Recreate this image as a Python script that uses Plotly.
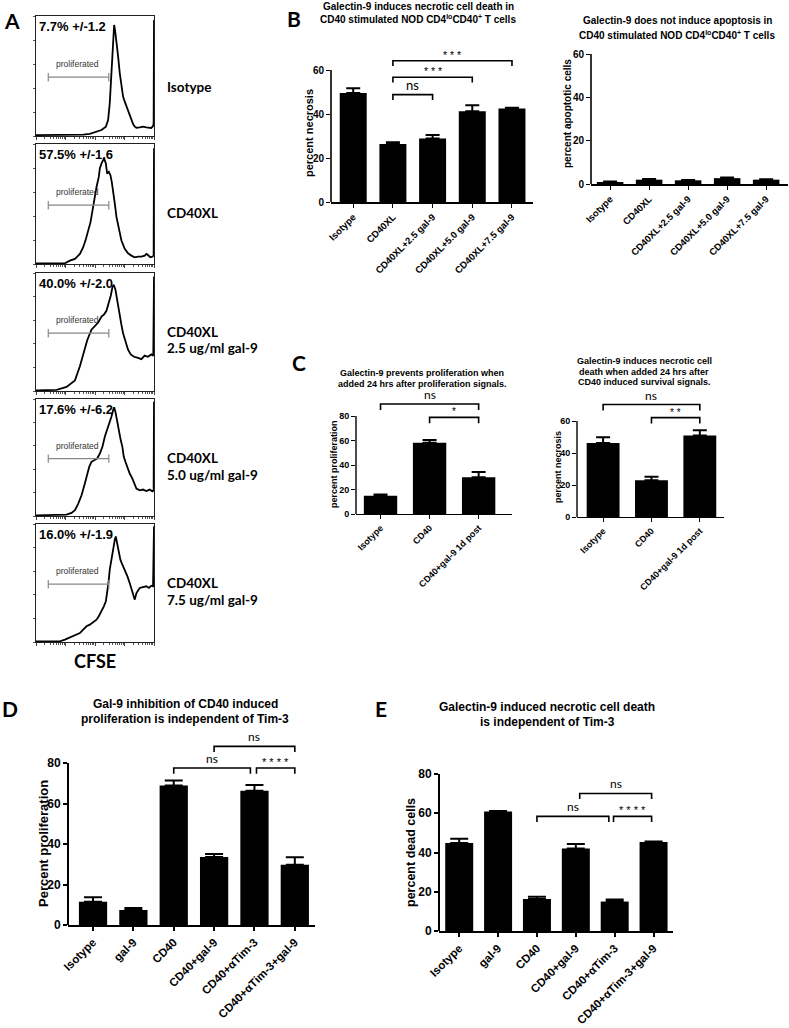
import math
import plotly.graph_objects as go

W, H = 789, 1028

# ---------------- Panel A data (CFSE histograms; x = channel 0-1000 over 4 log decades, y = % of max) -------------
hist_stats = ["7.7% +/-1.2", "57.5% +/-1.6", "40.0% +/-2.0", "17.6% +/-6.2", "16.0% +/-1.9"]
hist_side_labels = [["Isotype"], ["CD40XL"], ["CD40XL", "2.5 ug/ml gal-9"],
                    ["CD40XL", "5.0 ug/ml gal-9"], ["CD40XL", "7.5 ug/ml gal-9"]]

iso_ch = [0, 118, 259, 400, 456, 513, 555, 592, 611, 625, 637, 648, 656, 662, 670, 682, 696, 710, 724, 738,
          752, 766, 780, 794, 808, 823, 837, 851, 879, 907, 935, 963, 977, 992, 997, 1000]
iso_cnt = [0.8, 0.8, 0.8, 1.1, 1.7, 3.3, 5.0, 7.8, 13.3, 27.2, 46.7, 68.9, 85.6, 92.5, 88.3, 80.0, 66.1, 52.2, 41.1, 32.8,
           28.6, 25.0, 21.7, 17.5, 13.3, 10.0, 7.8, 6.9, 7.2, 7.8, 7.2, 6.9, 6.7, 8.3, 10.6, 96.7]

cd40_ch = [0, 245, 287, 330, 372, 400, 423, 442, 462, 479, 493, 513, 532, 541, 555, 569, 577, 592, 603, 617,
           631, 642, 654, 668, 682, 704, 724, 752, 780, 808, 837, 865, 893, 921, 935, 949, 969, 986, 997, 1000]
cd40_cnt = [0.6, 0.6, 2.8, 4.2, 8.4, 14.0, 20.9, 27.9, 34.9, 44.7, 54.5, 64.2, 72.6, 79.6, 83.8, 87.1, 88.0, 83.8, 75.4, 76.8,
            74.0, 68.4, 61.4, 50.3, 39.1, 27.9, 19.6, 12.6, 8.9, 7.0, 5.6, 6.1, 6.1, 7.0, 8.4, 7.5, 5.6, 6.1, 7.0, 96.4]

g25_ch = [0, 175, 259, 330, 372, 400, 434, 470, 499, 527, 555, 577, 597, 617, 634, 648, 659, 673, 687, 704,
          724, 738, 758, 780, 803, 831, 865, 893, 921, 949, 977, 994, 1000]
g25_cnt = [0.5, 1.0, 3.4, 9, 21, 31, 43, 52, 55, 58, 63, 65, 68, 74, 81, 88, 90, 86, 77, 66,
           56, 49, 42, 35, 31, 29, 28, 27, 30, 29, 31, 30, 97]

g50_ch = [0, 259, 301, 330, 358, 386, 414, 434, 451, 470, 499, 518, 541, 563, 583, 603, 625, 639, 654, 662,
          673, 687, 704, 718, 732, 744, 758, 772, 794, 817, 837, 851, 879, 907, 935, 963, 986, 997, 1000]
g50_cnt = [0.6, 1.1, 2.6, 4.9, 10.6, 17.7, 27.7, 36.3, 42.0, 46.3, 47.7, 49.1, 53.4, 59.1, 67.7, 73.4, 79.1, 84.9, 90.6, 92.9,
           89.1, 80.6, 73.4, 64.9, 59.1, 50.6, 46.3, 42.0, 36.3, 32.0, 27.7, 23.4, 22.0, 22.6, 21.4, 22.6, 21.1, 22.0, 97.7]

g75_ch = [0, 203, 245, 287, 330, 372, 400, 428, 456, 485, 513, 532, 555, 575, 592, 603, 614, 625, 639, 654,
          668, 676, 687, 701, 715, 732, 752, 775, 794, 823, 837, 851, 879, 907, 935, 958, 977, 992, 1000]
g75_cnt = [0.6, 0.6, 2.0, 3.7, 5.6, 7.6, 10.5, 13.3, 14.7, 16.7, 18.9, 21.8, 26.0, 30.2, 34.5, 41.5, 50.0, 61.3, 69.8, 81.1,
           86.7, 89.5, 83.9, 76.8, 69.8, 65.5, 61.3, 55.6, 50.0, 41.5, 35.9, 41.5, 45.8, 46.6, 47.2, 45.8, 47.7, 47.2, 98.0]

gate_lo, gate_hi, gate_level = 104, 617, 49
gate_label = "proliferated"

# ---------------- Panel B data ----------------
b_cats = ["Isotype", "CD40XL", "CD40XL+2.5 gal-9", "CD40XL+5.0 gal-9", "CD40XL+7.5 gal-9"]
b_necrosis = [49.6, 26.4, 28.9, 41.3, 42.5]
b_necrosis_err = [2.1, 0.8, 1.6, 2.7, 0.3]
b_apoptotic = [0.9, 2.0, 1.7, 2.7, 2.0]
b_apoptotic_err = [0.2, 0.3, 0.2, 0.3, 0.2]
b_sig = [(1, 2, 48.8, "ns"), (1, 3, 56.7, "***"), (1, 4, 64.2, "***")]

# ---------------- Panel C data ----------------
c_cats = ["Isotype", "CD40", "CD40+gal-9 1d post"]
c_prolif = [15.0, 58.2, 29.9]
c_prolif_err = [1.0, 2.2, 4.4]
c_prolif_sig = [(0, 2, 89.8, "ns"), (1, 2, 78.9, "*")]
c_necrosis = [46.3, 23.0, 50.9]
c_necrosis_err = [3.6, 2.2, 3.3]
c_necrosis_sig = [(0, 2, 70.3, "ns"), (1, 2, 62.1, "**")]

# ---------------- Panel D / E data ----------------
de_cats = ["Isotype", "gal-9", "CD40", "CD40+gal-9", "CD40+\u03b1Tim-3", "CD40+\u03b1Tim-3+gal-9"]
d_prolif = [11.5, 7.4, 68.9, 33.6, 66.3, 29.7]
d_prolif_err = [2.2, 1.0, 2.5, 1.5, 2.8, 3.8]
d_sig = [(2, 3.9, 77.5, "ns"), (4.05, 5, 77.5, "****"), (3, 5, 88.2, "ns")]
e_dead = [44.8, 60.9, 16.3, 42.0, 15.0, 45.3]
e_dead_err = [2.2, 0.2, 1.2, 2.3, 1.0, 0.3]
e_sig = [(2, 3.85, 58.4, "ns"), (3.97, 4.95, 58.4, "****"), (3.1, 4.95, 70.1, "ns")]

ARIAL = "Liberation Sans"
CALIBRI = "Lato"

fig = go.Figure()
layout = {}
ann = []
shapes = []


def fx(px):
    return px / W


def fy(py):
    return 1 - py / H


def names(n):
    return ("xaxis" if n == 1 else f"xaxis{n}", "yaxis" if n == 1 else f"yaxis{n}",
            "x" if n == 1 else f"x{n}", "y" if n == 1 else f"y{n}")


def text(x, y, s, size, family=ARIAL, bold=True, xanchor="center", yanchor="middle", angle=0, color="black",
         xref="paper", yref="paper", yshift=0):
    ann.append(dict(x=x, y=y, xref=xref, yref=yref, text=s, showarrow=False, xanchor=xanchor, yanchor=yanchor,
                    textangle=angle, yshift=yshift,
                    font=dict(family=family, size=size, color=color, weight="bold" if bold else "normal")))


# ---------------- Panel A ----------------
hist_series = [(iso_ch, iso_cnt), (cd40_ch, cd40_cnt), (g25_ch, g25_cnt), (g50_ch, g50_cnt), (g75_ch, g75_cnt)]
hist_boxes = [(16, 136), (144, 264), (273, 391), (399, 516), (524, 642)]
side_label_y = [[87], [213], [332, 348], [458, 475], [583, 600]]
box_l, box_r = 36, 154
minor_vals = [250 * (d + math.log10(k)) for d in range(4) for k in range(2, 10)]

for i, ((ch, cnt), (top, bot)) in enumerate(zip(hist_series, hist_boxes)):
    n = i + 1
    xa, ya, xr, yr = names(n)
    layout[xa] = dict(domain=[fx(box_l), fx(box_r)], range=[0, 1000], anchor=yr, showline=True, mirror=True,
                      linecolor="#222", linewidth=1, showgrid=False, zeroline=False, ticks="outside",
                      tickvals=[0, 250, 500, 750, 1000], ticklen=3, tickwidth=1, tickcolor="#444",
                      showticklabels=False, automargin=False,
                      minor=dict(tickmode="array", tickvals=minor_vals, ticks="outside", ticklen=2,
                                 tickwidth=0.8, tickcolor="#555"))
    layout[ya] = dict(domain=[fy(bot), fy(top)], range=[0, 100], anchor=xr, showline=True, mirror=True,
                      linecolor="#222", linewidth=1, showgrid=False, zeroline=False, ticks="outside",
                      tickvals=[0, 20, 40, 60, 80, 100], ticklen=2.5, tickwidth=1, tickcolor="#555",
                      showticklabels=False, automargin=False)
    fig.add_trace(go.Scatter(x=ch, y=cnt, mode="lines", line=dict(color="black", width=1.8),
                             xaxis=xr, yaxis=yr, showlegend=False, hoverinfo="skip"))
    fig.add_trace(go.Scatter(x=[gate_lo, gate_hi], y=[gate_level, gate_level], mode="lines+markers",
                             line=dict(color="#888", width=1.2),
                             marker=dict(symbol="line-ns", size=6, line=dict(color="#888", width=1.2)),
                             xaxis=xr, yaxis=yr, showlegend=False, hoverinfo="skip"))
    text((gate_lo + gate_hi) / 2 - 5, gate_level + 5, gate_label, 8.5, bold=False, yanchor="bottom",
         color="#333", xref=xr, yref=yr)
    text(fx(box_l + 1), fy(top + 1), hist_stats[i], 13, xanchor="left", yanchor="top")
    for line, yy in zip(hist_side_labels[i], side_label_y[i]):
        text(fx(165), fy(yy), line, 13.5, family=CALIBRI, xanchor="left")

text(fx(95), fy(661), "CFSE", 18, family=CALIBRI)

# panel letters
for letter, (lx, ly) in {"A": (12, 20), "B": (294, 18), "C": (299, 362), "D": (10, 708), "E": (381, 708)}.items():
    text(fx(lx), fy(ly), letter, 21, family=CALIBRI)


# ---------------- bar panels ----------------
def bar_panel(n, cats, vals, errs, sig, xpx, ypx, xrange, ymax, yext, ydtick, bar_w, cap, lw, tick_sz, cat_sz,
              drop, sig_sz, star_sz, ytitle, ytitle_pos, ytitle_sz, titles, title_sz):
    xa, ya, xr, yr = names(n)
    idx = list(range(len(cats)))
    top_px = ypx[1] - (ypx[1] - ypx[0]) * yext / ymax
    layout[xa] = dict(domain=[fx(xpx[0]), fx(xpx[1])], range=xrange, anchor=yr, showline=True,
                      linecolor="black", linewidth=lw, showgrid=False, zeroline=False, ticks="outside",
                      tickvals=idx, ticktext=cats, tickangle=-45, ticklen=4, tickwidth=lw * 0.8,
                      tickcolor="black", automargin=False,
                      tickfont=dict(family=ARIAL, size=cat_sz, color="black", weight="bold"))
    layout[ya] = dict(domain=[fy(ypx[1]), fy(top_px)], range=[0, yext], anchor=xr, showline=False,
                      showgrid=False, zeroline=False, ticks="outside",
                      tickvals=list(range(0, ymax + 1, ydtick)), ticklen=4, tickwidth=lw * 0.8,
                      tickcolor="black", automargin=False,
                      tickfont=dict(family=ARIAL, size=tick_sz, color="black", weight="bold"))
    shapes.append(dict(type="line", xref=f"{xr} domain", yref=yr, x0=0, x1=0, y0=0, y1=ymax,
                       line=dict(color="black", width=lw)))
    fig.add_trace(go.Bar(x=idx, y=vals, width=bar_w, marker=dict(color="black", line=dict(width=0)),
                         error_y=dict(type="data", array=errs, symmetric=False, arrayminus=[0] * len(errs),
                                      color="black", thickness=2, width=cap),
                         xaxis=xr, yaxis=yr, showlegend=False, hoverinfo="skip"))
    for (a, b, yb, lab) in sig:
        fig.add_trace(go.Scatter(x=[a, a, b, b], y=[yb - drop, yb, yb, yb - drop], mode="lines",
                                 line=dict(color="black", width=1.6),
                                 xaxis=xr, yaxis=yr, showlegend=False, hoverinfo="skip"))
        if lab == "ns":
            text((a + b) / 2, yb, lab, sig_sz, family=CALIBRI, bold=False, yanchor="bottom", xref=xr, yref=yr)
        else:
            text((a + b) / 2, yb, " ".join(lab), star_sz, bold=False, yanchor="bottom", xref=xr, yref=yr,
                 yshift=-2)
    text(fx(ytitle_pos[0]), fy(ytitle_pos[1]), ytitle, ytitle_sz, angle=-90)
    for (tx, ty, s) in titles:
        text(fx(tx), fy(ty), s, title_sz)


bar_panel(6, b_cats, b_necrosis, b_necrosis_err, b_sig, (331, 533), (70, 202), [-0.56, 4.53], 60, 70, 20,
          0.68, 7, 1.6, 10, 9.5, 2.4, 13, 10.5, "percent necrosis", (309, 133), 11,
          [(418, 7, "Galectin-9 induces necrotic cell death in"),
           (418, 19, "CD40 stimulated NOD CD4<sup>lo</sup>CD40<sup>+</sup> T cells")], 10)
bar_panel(7, b_cats, b_apoptotic, b_apoptotic_err, [], (591, 788), (54, 184), [-0.49, 4.56], 60, 60, 20,
          0.68, 7, 1.6, 10, 9.5, 2.4, 13, 10.5, "percent apoptotic cells", (567, 114), 10,
          [(677, 20, "Galectin-9 does not induce apoptosis in"),
           (677, 35, "CD40 stimulated NOD CD4<sup>lo</sup>CD40<sup>+</sup> T cells")], 10)
bar_panel(8, c_cats, c_prolif, c_prolif_err, c_prolif_sig, (356, 512), (416, 514), [-0.5, 2.68], 80, 98, 20,
          0.68, 7, 1.4, 9, 9, 4.9, 12, 10, "percent proliferation", (334, 464), 9,
          [(422, 373, "Galectin-9 prevents proliferation when"),
           (422, 384, "added 24 hrs after proliferation signals.")], 9)
bar_panel(9, c_cats, c_necrosis, c_necrosis_err, c_necrosis_sig, (577, 724), (421, 517), [-0.54, 2.5], 60, 76, 20,
          0.68, 7, 1.4, 9, 9, 3.7, 12, 10, "percent necrosis", (558, 467), 9,
          [(644, 361, "Galectin-9 induces necrotic cell"),
           (644, 372, "death when added 24 hrs after"),
           (644, 382, "CD40 induced survival signals.")], 9)
bar_panel(10, de_cats, d_prolif, d_prolif_err, d_sig, (68, 315), (763, 925), [-0.62, 5.5], 80, 95, 20,
          0.7, 9, 2, 12, 11.5, 2.8, 12, 11, "Percent proliferation", (43, 844), 13,
          [(185, 704, "Gal-9 inhibition of CD40 induced"),
           (185, 719, "proliferation is independent of Tim-3")], 12)
bar_panel(11, de_cats, e_dead, e_dead_err, e_sig, (439, 673), (774, 931), [-0.52, 5.5], 80, 80, 20,
          0.72, 9, 2, 12, 11.5, 2.9, 12, 11, "percent dead cells", (411, 853), 12.5,
          [(547, 707, "Galectin-9 induced necrotic cell death"),
           (547, 722, "is independent of Tim-3")], 12)

fig.update_layout(width=W, height=H, margin=dict(l=0, r=0, t=0, b=0, autoexpand=False), paper_bgcolor="white",
                  plot_bgcolor="white", showlegend=False, annotations=ann, shapes=shapes, **layout)
fig.write_html("out.html", config={"displayModeBar": False},
               post_script="document.body.style.margin='0px';document.body.style.padding='0px';")
